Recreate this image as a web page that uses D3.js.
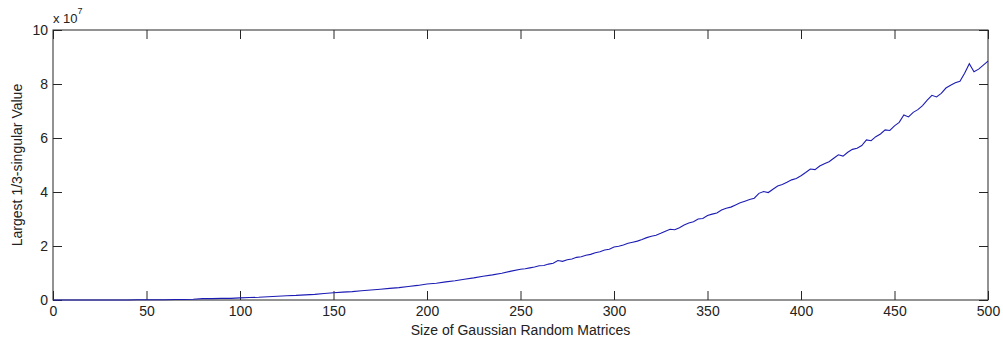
<!DOCTYPE html>
<html>
<head>
<meta charset="utf-8">
<script src="https://cdn.jsdelivr.net/npm/d3@7"></script>
<style>
    body { margin: 0; background: #fff; }
    text { font-family: Arial, "Liberation Sans", sans-serif; fill: #222; }
</style>
</head>
<body>
<svg></svg>
<script>
// matrix sizes (x axis): every 5 up to 245, then every 2.5 to 500
let sizes = d3.range(0, 250, 5).concat(d3.range(250, 502.5, 2.5))
// largest 1/3-singular value, in units of 1e7
let values = [
    0, 0, 0, 0, 0, 0, 0, 0, 0, 0.01,
    0.01, 0.01, 0.01, 0.02, 0.02, 0.03, 0.05, 0.05, 0.06, 0.06,
    0.08, 0.09, 0.10, 0.12, 0.14, 0.16, 0.17, 0.19, 0.21, 0.24,
    0.27, 0.29, 0.31, 0.34, 0.37, 0.40, 0.43, 0.46, 0.50, 0.54,
    0.59, 0.62, 0.67, 0.71, 0.77, 0.82, 0.88, 0.93, 0.99, 1.07,
    1.14, 1.16, 1.19, 1.22, 1.27, 1.28, 1.33, 1.36, 1.46, 1.43,
    1.49, 1.52, 1.58, 1.60, 1.66, 1.69, 1.75, 1.79, 1.85, 1.88,
    1.96, 1.99, 2.04, 2.10, 2.14, 2.18, 2.24, 2.31, 2.36, 2.40,
    2.47, 2.55, 2.62, 2.60, 2.68, 2.78, 2.85, 2.90, 3.00, 3.02,
    3.13, 3.18, 3.22, 3.33, 3.40, 3.44, 3.52, 3.60, 3.66, 3.72,
    3.77, 3.95, 4.02, 3.98, 4.10, 4.22, 4.28, 4.36, 4.45, 4.50,
    4.60, 4.72, 4.85, 4.83, 4.96, 5.05, 5.12, 5.25, 5.38, 5.33,
    5.47, 5.58, 5.62, 5.72, 5.93, 5.90, 6.05, 6.15, 6.30, 6.28,
    6.45, 6.58, 6.85, 6.78, 6.95, 7.05, 7.20, 7.40, 7.58, 7.52,
    7.65, 7.85, 7.95, 8.05, 8.10, 8.40, 8.75, 8.45, 8.55, 8.70,
    8.85
]
let xTicks = [0, 50, 100, 150, 200, 250, 300, 350, 400, 450, 500]
let yTicks = [0, 2, 4, 6, 8, 10]

let svgWidth = 1003
let svgHeight = 347
let plotLeft = 53, plotRight = 988, plotTop = 30, plotBottom = 300
let tickLen = 9

let svg = d3.select('svg')
    .attr('width', svgWidth)
    .attr('height', svgHeight)
    .style('background', '#fff')

let x = d3.scaleLinear().domain([0, 500]).range([plotLeft, plotRight])
let y = d3.scaleLinear().domain([0, 10]).range([plotBottom, plotTop])

// box
svg.append('rect')
    .attr('x', plotLeft)
    .attr('y', plotTop)
    .attr('width', plotRight - plotLeft)
    .attr('height', plotBottom - plotTop)
    .attr('fill', 'none')
    .attr('stroke', '#262626')
    .attr('stroke-width', 1)

// inward ticks on all four sides
let xAxisB = d3.axisBottom(x).tickValues(xTicks).tickSizeInner(-tickLen).tickSizeOuter(0).tickPadding(6)
let xAxisT = d3.axisTop(x).tickValues(xTicks).tickSizeInner(-tickLen).tickSizeOuter(0).tickFormat('')
let yAxisL = d3.axisLeft(y).tickValues(yTicks).tickSizeInner(-tickLen).tickSizeOuter(0).tickPadding(5)
let yAxisR = d3.axisRight(y).tickValues(yTicks).tickSizeInner(-tickLen).tickSizeOuter(0).tickFormat('')

let gb = svg.append('g').attr('transform', 'translate(0,' + plotBottom + ')').call(xAxisB)
let gt = svg.append('g').attr('transform', 'translate(0,' + plotTop + ')').call(xAxisT)
let gl = svg.append('g').attr('transform', 'translate(' + plotLeft + ',0)').call(yAxisL)
let gr = svg.append('g').attr('transform', 'translate(' + plotRight + ',0)').call(yAxisR)

;[gb, gt, gl, gr].forEach(g => {
    g.select('.domain').remove()
    g.selectAll('line').attr('stroke', '#262626')
    g.selectAll('text')
        .attr('fill', '#222')
        .style('font-size', '14px')
        .style('font-family', 'Arial, "Liberation Sans", sans-serif')
})

// the curve
let line = d3.line()
    .x((d, i) => x(sizes[i]))
    .y(d => y(d))

svg.append('path')
    .datum(values)
    .attr('d', line)
    .attr('fill', 'none')
    .attr('stroke', '#1c1cb4')
    .attr('stroke-width', 1.1)

// exponent label
let expo = svg.append('text')
    .attr('x', plotLeft)
    .attr('y', 23)
    .style('font-size', '13px')
expo.append('tspan').text('x 10')
expo.append('tspan').attr('dy', -9).style('font-size', '9px').text('7')

// axis labels
svg.append('text')
    .attr('x', (plotLeft + plotRight) / 2)
    .attr('y', 335)
    .attr('text-anchor', 'middle')
    .style('font-size', '14px')
    .text('Size of Gaussian Random Matrices')

svg.append('text')
    .attr('transform', 'translate(22,' + (plotTop + plotBottom) / 2 + ') rotate(-90)')
    .attr('text-anchor', 'middle')
    .style('font-size', '14px')
    .text('Largest 1/3-singular Value')
</script>
</body>
</html>
